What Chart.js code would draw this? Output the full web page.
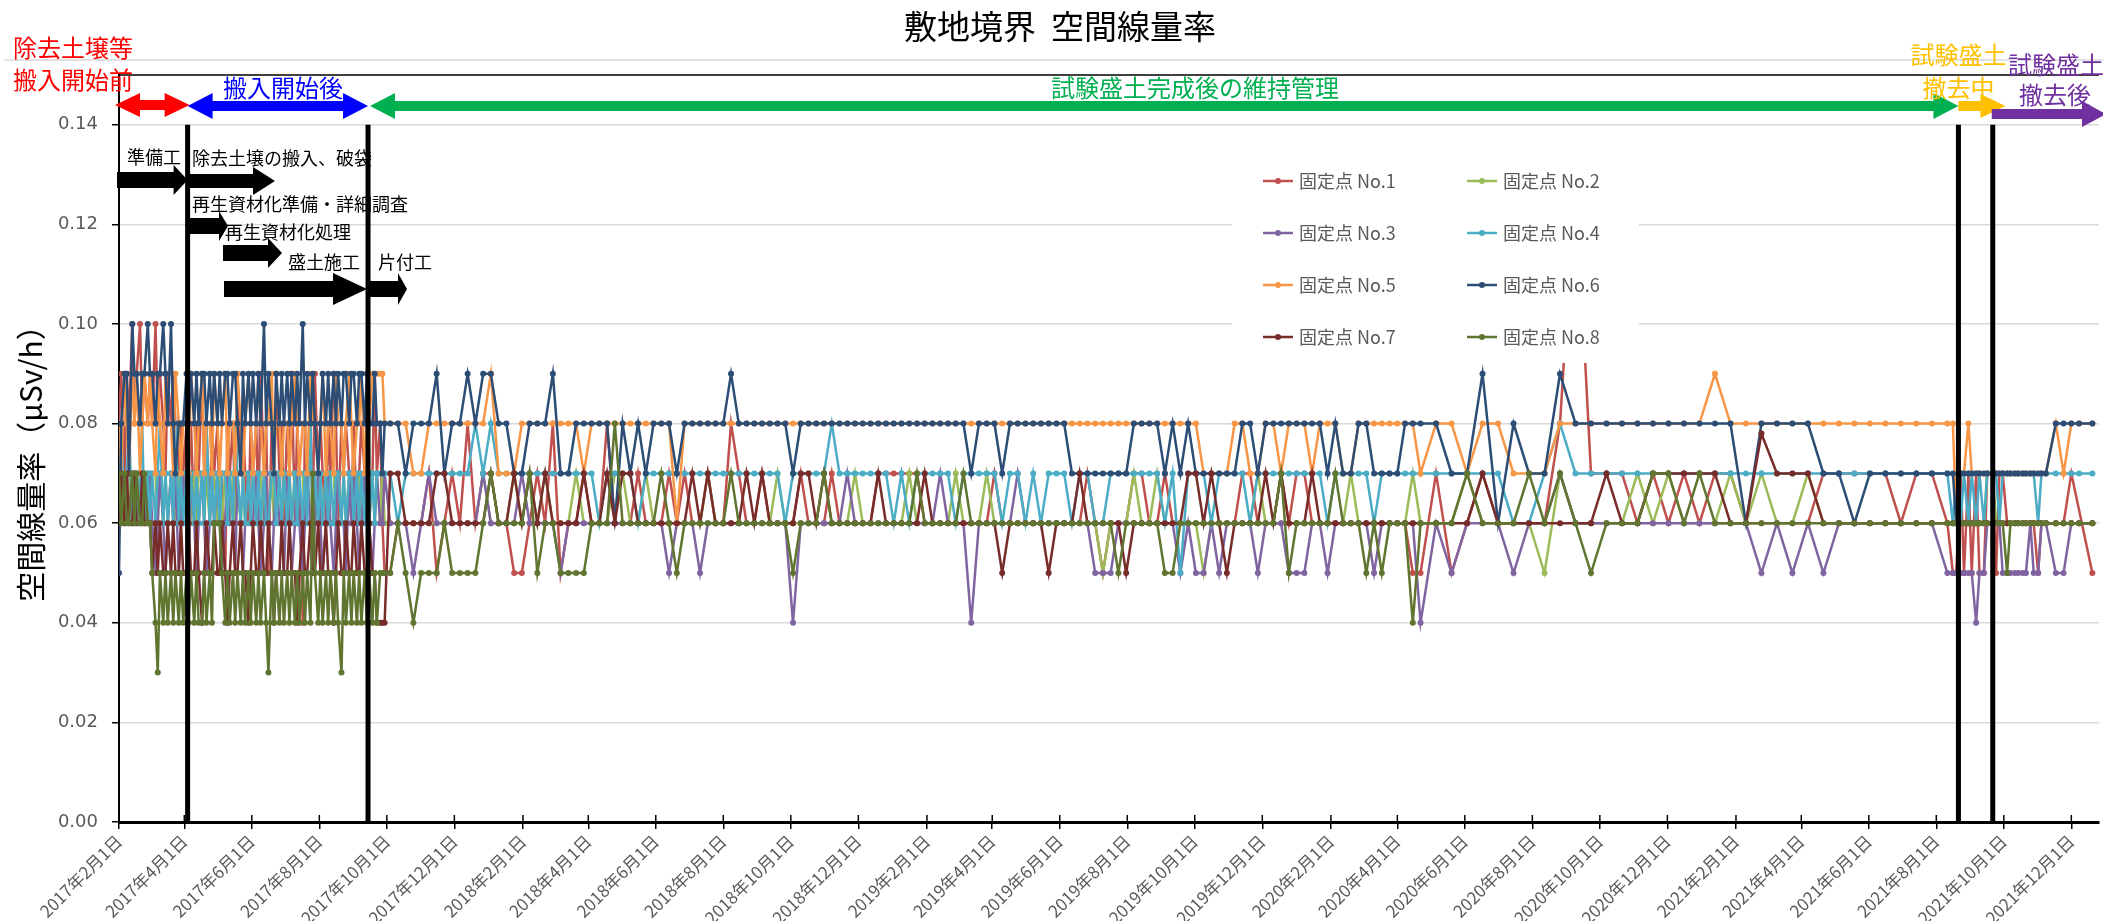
<!DOCTYPE html>
<html lang="ja">
<head>
<meta charset="utf-8">
<title>敷地境界 空間線量率</title>
<script src="https://cdn.jsdelivr.net/npm/chart.js@4.4.1/dist/chart.umd.min.js"></script>
<style>
  html, body { margin: 0; padding: 0; background: #fff; }
  canvas { display: block; }
</style>
</head>
<body>
<canvas id="chart" width="2103" height="921"></canvas>
<script>
// measurement dates (shared by all points)
const dates = [
  // 2017 dense period
  '2017-02-01','2017-02-03','2017-02-06','2017-02-08','2017-02-10','2017-02-13','2017-02-15','2017-02-17','2017-02-20','2017-02-22','2017-02-24','2017-02-27',
  '2017-03-01','2017-03-03','2017-03-06','2017-03-08','2017-03-10','2017-03-13','2017-03-15','2017-03-17','2017-03-20','2017-03-22','2017-03-24','2017-03-27','2017-03-29','2017-03-31',
  '2017-04-03','2017-04-05','2017-04-07','2017-04-10','2017-04-12','2017-04-14','2017-04-17','2017-04-19','2017-04-21','2017-04-24','2017-04-26','2017-04-28',
  '2017-05-01','2017-05-03','2017-05-05','2017-05-08','2017-05-10','2017-05-12','2017-05-15','2017-05-17','2017-05-19','2017-05-22','2017-05-24','2017-05-26','2017-05-29','2017-05-31',
  '2017-06-02','2017-06-05','2017-06-07','2017-06-09','2017-06-12','2017-06-14','2017-06-16','2017-06-19','2017-06-21','2017-06-23','2017-06-26','2017-06-28','2017-06-30',
  '2017-07-03','2017-07-05','2017-07-07','2017-07-10','2017-07-12','2017-07-14','2017-07-17','2017-07-19','2017-07-21','2017-07-24','2017-07-26','2017-07-28','2017-07-31',
  '2017-08-02','2017-08-04','2017-08-07','2017-08-09','2017-08-11','2017-08-14','2017-08-16','2017-08-18','2017-08-21','2017-08-23','2017-08-25','2017-08-28','2017-08-30',
  '2017-09-01','2017-09-04','2017-09-06','2017-09-08','2017-09-11','2017-09-13','2017-09-15','2017-09-18','2017-09-20','2017-09-22','2017-09-25','2017-09-27','2017-09-29',
  // weekly
  '2017-10-04','2017-10-11','2017-10-18','2017-10-25','2017-11-01','2017-11-08','2017-11-15','2017-11-22','2017-11-29','2017-12-06','2017-12-13','2017-12-20','2017-12-27',
  '2018-01-03','2018-01-10','2018-01-17','2018-01-24','2018-01-31','2018-02-07','2018-02-14','2018-02-21','2018-02-28','2018-03-07','2018-03-14','2018-03-21','2018-03-28',
  '2018-04-04','2018-04-11','2018-04-18','2018-04-25','2018-05-02','2018-05-09','2018-05-16','2018-05-23','2018-05-30','2018-06-06','2018-06-13','2018-06-20','2018-06-27',
  '2018-07-04','2018-07-11','2018-07-18','2018-07-25','2018-08-01','2018-08-08','2018-08-15','2018-08-22','2018-08-29','2018-09-05','2018-09-12','2018-09-19','2018-09-26',
  '2018-10-03','2018-10-10','2018-10-17','2018-10-24','2018-10-31','2018-11-07','2018-11-14','2018-11-21','2018-11-28','2018-12-05','2018-12-12','2018-12-19','2018-12-26',
  '2019-01-02','2019-01-09','2019-01-16','2019-01-23','2019-01-30','2019-02-06','2019-02-13','2019-02-20','2019-02-27','2019-03-06','2019-03-13','2019-03-20','2019-03-27',
  '2019-04-03','2019-04-10','2019-04-17','2019-04-24','2019-05-01','2019-05-08','2019-05-15','2019-05-22','2019-05-29','2019-06-05','2019-06-12','2019-06-19','2019-06-26',
  '2019-07-03','2019-07-10','2019-07-17','2019-07-24','2019-07-31','2019-08-07','2019-08-14','2019-08-21','2019-08-28','2019-09-04','2019-09-11','2019-09-18','2019-09-25',
  '2019-10-02','2019-10-09','2019-10-16','2019-10-23','2019-10-30','2019-11-06','2019-11-13','2019-11-20','2019-11-27','2019-12-04','2019-12-11','2019-12-18','2019-12-25',
  '2020-01-01','2020-01-08','2020-01-15','2020-01-22','2020-01-29','2020-02-05','2020-02-12','2020-02-19','2020-02-26','2020-03-04','2020-03-11','2020-03-18','2020-03-25',
  '2020-04-01','2020-04-08','2020-04-15','2020-04-22',
  // every two weeks
  '2020-05-06','2020-05-20','2020-06-03','2020-06-17','2020-07-01','2020-07-15','2020-07-29','2020-08-12','2020-08-26','2020-09-09','2020-09-23','2020-10-07','2020-10-21',
  '2020-11-04','2020-11-18','2020-12-02','2020-12-16','2020-12-30',
  '2021-01-13','2021-01-27','2021-02-10','2021-02-24','2021-03-10','2021-03-24','2021-04-07','2021-04-21','2021-05-05','2021-05-19','2021-06-02','2021-06-16','2021-06-30',
  '2021-07-14','2021-07-28','2021-08-11',
  // removal period
  '2021-08-16','2021-08-19','2021-08-23','2021-08-26','2021-08-30','2021-09-02','2021-09-06','2021-09-09','2021-09-13','2021-09-16','2021-09-21','2021-09-24','2021-09-27',
  '2021-09-30','2021-10-04','2021-10-07','2021-10-11','2021-10-14','2021-10-18','2021-10-21','2021-10-25','2021-10-28','2021-11-01','2021-11-04','2021-11-08',
  '2021-11-17','2021-11-24','2021-12-01','2021-12-08','2021-12-20'
];

// values in units of 0.01 μSv/h, same order as dates
const no1 = [
  8,9,7,9,8,10,8,9,10,8,9,8, 9,8,10,8,9,8,7,9,8,9,8,7,8,7, 8,7,8,6,8,7,9,7,8,6,8,7, 8,6,7,5,8,7,8,6,9,7,8,7,6,8,
  7,8,6,9,7,8,5,8,7,9,7,8,6, 8,7,9,6,8,7,4,8,7,8,6,9,7, 8,7,6,8,7,9,8,6,8,7,8,7,6, 8,6,7,8,7,8,6,7,9,7,8,6,5,
  5,6,6,6,6,7,5,6,7,6,8,6,7,
  7,6,6,5,5,6,7,6,8,5,6,6,7,6,6,8,6,6,6,7,6,6,6,7,6,7,
  6,6,7,6,6,8,7,6,6,7,6,6,6,6,7,6,6,6,7,6,6,6,6,6,7,7,
  7,7,7,7,6,6,6,6,6,6,6,6,6,7,6,6,6,6,6,6,6,6,6,6,6,7,
  6,5,6,6,6,7,7,6,6,7,6,6,6,6,6,6,6,6,6,7,7,6,6,6,7,6,
  7,7,6,6,6,6,6,6,6,6,6,6,6,6,6,5,5,
  7,5,6,7,6,6,6,6,8,13,7,7,7,6,7,6,7,6,
  7,7,6,6,6,6,6,7,7,7,7,7,6,7,7,6,
  5,5,7,5,7,5,7,5,5,7,7,5,7,7,6,6,6,6,6,6,6,6,5,6,6,
  6,6,7,null,5
];
const no2 = [
  7,6,7,6,7,6,7,7,6,7,6,7, 6,7,7,6,7,6,7,6,7,7,6,7,6,7, 6,7,6,7,6,7,7,6,7,6,7,7, 6,7,6,7,7,6,7,6,7,6,7,6,7,6,
  7,6,7,7,6,7,6,7,6,7,7,6,7, 6,7,6,7,6,7,7,6,7,6,7,6,7, 7,6,7,6,7,7,6,7,6,7,6,7,6, 7,6,7,6,7,6,7,7,6,7,6,7,6,
  6,6,6,6,6,6,6,6,6,6,6,6,7,
  6,6,6,7,6,7,6,7,6,6,6,7,6,6,6,6,7,7,6,6,7,6,6,6,6,6,
  6,6,7,6,6,6,6,6,6,6,6,7,6,6,6,6,6,6,6,6,6,7,6,6,6,6,
  6,6,7,6,6,6,6,6,7,6,6,6,7,6,6,6,6,6,6,6,6,6,6,6,6,6,
  6,5,6,6,6,7,6,6,7,6,6,6,6,6,5,6,6,6,6,6,6,7,6,6,6,6,
  6,6,6,6,6,6,6,7,6,6,6,6,6,6,6,7,6,
  6,6,7,6,6,6,6,5,7,6,6,6,6,7,6,7,6,6,
  6,7,6,7,6,6,7,6,6,6,6,6,6,6,6,6,
  6,6,6,6,6,6,6,6,6,7,7,6,6,6,6,6,6,6,6,6,6,6,6,6,6,
  6,6,6,6,6
];
const no3 = [
  6,7,6,7,6,7,6,7,7,6,7,6, 7,6,5,6,7,6,5,6,7,6,7,5,6,7, 6,5,7,6,5,6,7,6,5,6,7,6, 7,6,5,6,7,6,6,5,7,6,5,6,7,6,
  6,7,6,5,6,7,6,5,6,7,6,6,5, 7,6,5,6,7,6,5,6,7,6,5,6,7, 6,5,6,7,6,5,6,7,6,6,5,7,6, 7,6,5,6,7,6,6,5,6,7,6,6,7,
  6,6,6,5,6,7,6,6,6,6,6,6,7,
  6,6,6,6,7,6,6,6,6,5,6,6,6,6,6,6,6,6,6,6,6,6,6,5,6,6,
  6,5,6,6,6,6,6,6,6,6,6,6,6,4,6,6,6,6,6,6,7,6,6,6,6,6,
  6,6,6,6,6,6,7,6,6,6,4,6,6,6,6,6,7,6,6,6,6,6,6,6,6,6,
  5,5,5,6,6,6,6,6,6,6,6,5,6,5,5,6,5,6,6,6,6,5,6,6,6,5,
  5,5,6,6,5,6,6,6,6,6,5,6,6,6,6,6,4,
  6,5,6,6,6,5,6,6,7,6,6,6,6,6,6,6,6,6,
  6,6,6,5,6,5,6,5,6,6,6,6,6,6,6,5,
  5,5,5,5,5,5,4,5,5,6,6,6,6,5,5,5,5,5,5,5,6,5,5,6,6,
  5,5,6,6,6
];
const no4 = [
  7,8,6,7,8,6,7,6,7,8,6,7, 6,7,6,7,8,6,7,6,7,6,8,6,7,6, 7,6,7,6,7,6,7,6,8,6,7,6, 7,6,7,7,6,7,6,8,7,6,7,6,7,6,
  7,6,7,6,7,6,6,7,7,6,7,6,7, 6,7,6,7,6,7,6,7,6,8,6,7,6, 7,6,7,6,7,6,7,7,6,7,6,7,7, 6,7,6,7,6,7,6,7,6,7,7,7,7,
  7,6,7,7,7,7,7,7,7,7,7,8,7,
  8,7,7,7,7,7,7,7,7,7,7,7,7,7,6,7,7,7,7,6,7,7,7,7,7,7,
  7,7,7,7,7,7,7,7,7,7,7,7,6,7,7,7,7,7,8,7,7,7,7,7,7,7,
  6,7,6,7,7,7,7,7,6,7,7,7,7,7,6,7,7,6,7,6,7,7,7,6,7,7,
  6,6,7,7,7,7,7,7,7,6,7,5,7,7,7,6,7,7,7,7,6,7,7,7,7,7,
  7,7,7,7,6,7,7,7,7,7,6,7,7,7,7,7,7,
  7,7,7,7,7,6,6,7,8,7,7,7,7,7,7,7,7,7,
  7,7,7,7,7,7,7,7,7,7,7,7,7,7,7,7,
  6,7,6,7,6,7,6,7,6,7,7,7,6,7,7,7,7,7,7,7,7,7,6,7,7,
  7,7,7,7,7
];
const no5 = [
  8,7,9,8,7,9,8,9,7,8,9,8, 9,8,7,9,8,7,9,8,8,7,9,8,7,8, 8,7,9,8,7,8,9,7,8,8,7,9, 8,7,8,9,7,8,8,7,9,8,7,8,9,8,
  7,8,9,8,7,8,8,9,7,8,8,7,8, 8,7,8,9,8,7,8,8,7,9,8,8,7, 8,9,7,8,8,7,9,8,8,7,8,9,8, 7,8,8,9,7,8,8,9,9,9,9,9,8,
  8,8,8,7,7,8,8,8,8,8,8,8,8,
  9,7,7,7,8,8,8,8,8,8,8,8,7,8,8,8,8,8,8,8,8,8,8,8,6,8,
  8,8,8,8,8,8,8,8,8,8,8,8,8,8,8,8,8,8,8,8,8,8,8,8,8,8,
  8,8,8,8,8,8,8,8,8,8,8,8,8,8,8,8,8,8,8,8,8,8,8,8,8,8,
  8,8,8,8,8,8,8,8,8,8,8,8,8,8,7,7,7,7,8,8,7,7,8,8,7,8,
  8,8,7,8,8,8,7,7,8,8,8,8,8,8,8,8,7,
  8,8,7,8,8,7,7,7,8,8,8,8,8,8,8,8,8,8,
  9,8,8,8,8,8,8,8,8,8,8,8,8,8,8,8,
  8,6,7,7,8,7,7,7,7,7,7,7,7,7,7,7,7,7,7,7,7,7,7,7,7,
  8,7,8,8,8
];
const no6 = [
  5,8,9,9,7,10,9,9,8,9,9,10, 9,9,8,9,9,10,9,8,10,8,7,8,8,8, 9,8,9,8,9,8,9,9,8,9,8,9, 8,9,8,9,9,8,9,9,8,7,9,8,9,8,
  9,8,9,8,10,8,9,8,7,9,8,9,8, 9,8,9,8,9,8,10,8,9,8,9,8,7, 8,9,8,9,8,9,8,9,8,9,9,8,9, 9,8,9,9,8,9,8,8,9,8,8,7,8,
  8,8,7,8,8,8,9,7,8,8,9,8,9,
  9,8,8,7,7,8,8,8,9,7,7,8,8,8,8,8,6,8,7,8,7,8,8,8,7,8,
  8,8,8,8,8,9,8,8,8,8,8,8,8,7,8,8,8,8,8,8,8,8,8,8,8,8,
  8,8,8,8,8,8,8,8,8,8,7,8,8,8,7,8,8,8,8,8,8,8,8,7,7,7,
  7,7,7,7,7,8,8,8,8,7,8,7,8,7,7,7,7,7,7,8,8,7,8,8,8,8,
  8,8,8,8,7,8,7,7,8,8,7,7,7,7,8,8,8,
  8,7,7,9,6,8,7,7,9,8,8,8,8,8,8,8,8,8,
  8,8,6,8,8,8,8,7,7,6,7,7,7,7,7,7,
  7,6,7,7,7,7,7,7,7,7,7,7,7,7,7,7,7,7,7,7,7,7,7,7,7,
  8,8,8,8,8
];
const no7 = [
  6,7,6,7,6,6,7,6,6,7,6,6, 6,5,6,5,6,5,5,6,5,6,5,5,6,5, 5,6,5,5,6,5,4,5,6,5,5,6, 5,5,6,5,4,5,6,5,5,6,5,5,4,5,
  6,5,5,6,5,5,6,5,4,5,5,6,5, 5,6,5,5,4,5,6,5,5,6,5,5,6, 5,5,6,5,5,4,5,6,5,5,6,5,5, 6,5,5,6,5,5,6,5,5,4,4,4,4,
  7,7,6,6,6,6,7,7,6,6,6,6,6,
  7,6,6,7,6,7,6,7,6,6,6,6,7,6,6,7,6,7,7,6,6,6,6,6,6,6,
  7,6,7,6,6,6,6,7,6,7,6,6,6,6,7,7,6,7,6,6,6,6,6,6,7,6,
  6,6,6,6,7,6,6,6,6,6,6,6,6,6,5,6,6,6,6,6,5,6,6,6,7,6,
  6,6,6,6,5,6,6,6,6,6,6,6,7,7,6,7,6,5,6,6,6,6,7,6,7,6,
  6,6,7,6,6,6,6,6,6,6,6,6,6,6,6,6,6,
  6,6,6,7,6,6,6,6,6,6,6,7,6,6,7,7,7,7,
  7,6,6,7.8,7,7,7,6,6,6,6,6,6,6,6,6,
  6,6,6,6,6,6,6,6,6,6,6,6,6,6,6,6,6,6,6,6,6,6,6,6,6,
  6,6,6,6,6
];
const no8 = [
  7,6,7,6,6,7,6,7,6,6,7,6, 6,5,4,3,5,4,5,4,5,4,5,4,5,4, 5,4,5,4,5,4,4,5,4,5,4,6, 6,6,5,4,5,4,5,4,5,4,5,4,5,4,
  5,4,5,4,5,4,3,5,4,5,4,5,4, 5,4,5,4,5,4,5,4,5,4,7,5,4, 5,4,5,4,5,4,5,4,3,5,4,5,4, 5,4,5,4,5,4,5,4,5,4,5,5,5,
  5,6,5,4,5,5,5,6,5,5,5,5,6,
  7,6,6,6,6,7,5,6,6,5,5,5,5,6,6,6,8,6,6,6,6,6,7,6,5,6,
  6,6,6,6,6,7,6,6,6,6,6,6,6,5,6,6,6,7,6,6,6,6,6,6,6,6,
  6,6,6,7,6,6,6,6,6,7,6,6,6,6,6,6,6,6,6,6,6,6,6,6,6,6,
  6,6,6,5,6,6,6,6,6,5,5,6,6,6,6,6,6,6,6,6,6,6,6,6,7,5,
  6,6,6,6,6,7,6,6,6,5,6,5,6,6,6,4,6,
  6,6,7,6,6,6,7,6,7,6,5,6,6,6,7,7,6,7,
  6,6,6,6,6,6,6,6,6,6,6,6,6,6,6,6,
  6,6,6,6,6,6,6,6,6,6,6,6,6,6,5,6,6,6,6,6,6,6,6,6,6,
  6,6,6,6,6
];

const seriesNames = ['固定点 No.1', '固定点 No.2', '固定点 No.3', '固定点 No.4', '固定点 No.5', '固定点 No.6', '固定点 No.7', '固定点 No.8'];
const seriesColors = ['#C0504D', '#9BBB59', '#8064A2', '#4BACC6', '#F79646', '#2C4D75', '#772C2A', '#5F7530'];

const tickDates = [
  '2017-02-01','2017-04-01','2017-06-01','2017-08-01','2017-10-01','2017-12-01',
  '2018-02-01','2018-04-01','2018-06-01','2018-08-01','2018-10-01','2018-12-01',
  '2019-02-01','2019-04-01','2019-06-01','2019-08-01','2019-10-01','2019-12-01',
  '2020-02-01','2020-04-01','2020-06-01','2020-08-01','2020-10-01','2020-12-01',
  '2021-02-01','2021-04-01','2021-06-01','2021-08-01','2021-10-01','2021-12-01'
];
const xStart = '2017-02-01';
const xEnd = '2021-12-26';

// boundaries between work phases (vertical black lines)
const phaseLines = ['2017-04-04', '2017-09-14', '2021-08-21', '2021-09-21'];

const JP = '"Noto Sans CJK JP", "Noto Sans", sans-serif';
const ts = d => Date.parse(d + 'T00:00:00Z');

function fmtDate(v) {
  const d = new Date(v);
  return d.getUTCFullYear() + '年' + (d.getUTCMonth() + 1) + '月' + d.getUTCDate() + '日';
}

const series = [no1, no2, no3, no4, no5, no6, no7, no8];
const datasets = series.map((vals, k) => ({
  label: seriesNames[k],
  data: vals.slice(0, dates.length).map((v, i) => ({ x: ts(dates[i]), y: v == null ? null : v / 100 })),
  borderColor: seriesColors[k],
  backgroundColor: seriesColors[k],
  borderWidth: 2.5,
  pointRadius: 3,
  pointBorderWidth: 0,
  pointHoverRadius: 3,
  tension: 0,
  spanGaps: true,
  order: series.length - k
}));

function text(ctx, s, x, y, color, size, align) {
  ctx.fillStyle = color;
  ctx.font = size + 'px ' + JP;
  ctx.textAlign = align || 'left';
  ctx.textBaseline = 'middle';
  ctx.fillText(s, x, y);
}

function arrow(ctx, x1, x2, y, color, hl, hh, sh) {
  ctx.fillStyle = color;
  ctx.beginPath();
  ctx.moveTo(x1, y - sh);
  ctx.lineTo(x2 - hl, y - sh);
  ctx.lineTo(x2 - hl, y - hh);
  ctx.lineTo(x2, y);
  ctx.lineTo(x2 - hl, y + hh);
  ctx.lineTo(x2 - hl, y + sh);
  ctx.lineTo(x1, y + sh);
  ctx.closePath();
  ctx.fill();
}

function dblArrow(ctx, x1, x2, y, color, hl, hh, sh) {
  ctx.fillStyle = color;
  ctx.beginPath();
  ctx.moveTo(x1, y);
  ctx.lineTo(x1 + hl, y - hh);
  ctx.lineTo(x1 + hl, y - sh);
  ctx.lineTo(x2 - hl, y - sh);
  ctx.lineTo(x2 - hl, y - hh);
  ctx.lineTo(x2, y);
  ctx.lineTo(x2 - hl, y + hh);
  ctx.lineTo(x2 - hl, y + sh);
  ctx.lineTo(x1 + hl, y + sh);
  ctx.lineTo(x1 + hl, y + hh);
  ctx.closePath();
  ctx.fill();
}

function hline(ctx, x1, x2, y, color, w) {
  ctx.strokeStyle = color;
  ctx.lineWidth = w;
  ctx.beginPath();
  ctx.moveTo(x1, y);
  ctx.lineTo(x2, y);
  ctx.stroke();
}

const annotations = {
  id: 'annotations',
  afterDraw(chart) {
    const ctx = chart.ctx;
    const a = chart.chartArea;
    const xs = chart.scales.x;
    const ys = chart.scales.y;
    const X = d => xs.getPixelForValue(ts(d));
    const [L1, L2, L3, L4] = phaseLines.map(X);
    ctx.save();

    // title and axis title
    text(ctx, '敷地境界  空間線量率', 1060, 26, '#000', 33, 'center');
    ctx.save();
    ctx.translate(31, 456);
    ctx.rotate(-Math.PI / 2);
    text(ctx, '空間線量率（μSv/h）', 0, 0, '#000', 30, 'center');
    ctx.restore();

    // frame lines of the annotation band
    hline(ctx, 4, 2103, 60, '#D9D9D9', 1.5);
    hline(ctx, a.left - 1, a.right, a.top, '#000', 1.5);

    // upper halves of the x tick marks
    ctx.strokeStyle = '#000';
    ctx.lineWidth = 1.5;
    tickDates.forEach(d => {
      const x = X(d);
      ctx.beginPath();
      ctx.moveTo(x, a.bottom - 7);
      ctx.lineTo(x, a.bottom);
      ctx.stroke();
    });

    // phase arrows
    dblArrow(ctx, a.left - 4, L1 + 2, 105, '#FF0000', 25, 12, 5);
    dblArrow(ctx, L1, L2, 106, '#0000FF', 25, 13, 5);
    dblArrow(ctx, L2 + 2, L3, 106, '#00B050', 25, 13, 5);
    arrow(ctx, L3, L3 + 47, 106, '#FFC000', 25, 12, 5);
    arrow(ctx, L4 - 1, 2106, 114, '#7030A0', 24, 13, 5);

    text(ctx, '除去土壌等', 13, 48, '#FF0000', 24);
    text(ctx, '搬入開始前', 13, 80, '#FF0000', 24);
    text(ctx, '搬入開始後', 283, 88, '#0000FF', 24, 'center');
    text(ctx, '試験盛土完成後の維持管理', 1195, 88, '#00B050', 24, 'center');
    text(ctx, '試験盛土', L3, 55, '#FFC000', 24, 'center');
    text(ctx, '撤去中', L3, 88, '#FFC000', 24, 'center');
    text(ctx, '試験盛土', 2008, 65, '#7030A0', 24);
    text(ctx, '撤去後', 2055, 95, '#7030A0', 24, 'center');

    // work items
    arrow(ctx, a.left - 2, L1, 180, '#000', 14, 15, 8);
    arrow(ctx, L1, 275, 181, '#000', 22, 14, 7);
    arrow(ctx, L1, 228, 226, '#000', 9, 15, 8);
    arrow(ctx, 223, 282, 253, '#000', 14, 15, 8);
    arrow(ctx, 224, L2 - 1, 289, '#000', 34, 16, 8);
    arrow(ctx, L2 + 2, 407, 289, '#000', 9, 16, 8);
    text(ctx, '準備工', 127, 157, '#000', 18);
    text(ctx, '除去土壌の搬入、破袋', 192, 158, '#000', 18);
    text(ctx, '再生資材化準備・詳細調査', 192, 204, '#000', 18);
    text(ctx, '再生資材化処理', 225, 232, '#000', 18);
    text(ctx, '盛土施工', 288, 262, '#000', 18);
    text(ctx, '片付工', 378, 262, '#000', 18);

    // phase boundary lines
    const yTop = ys.getPixelForValue(0.14);
    ctx.strokeStyle = '#000';
    ctx.lineWidth = 5;
    [L1, L2, L3, L4].forEach(x => {
      ctx.beginPath();
      ctx.moveTo(x, yTop);
      ctx.lineTo(x, a.bottom);
      ctx.stroke();
    });

    // legend
    ctx.fillStyle = '#fff';
    ctx.fillRect(1232, 150, 407, 213);
    const lx = [1263, 1467];
    const ly = [181, 233, 285, 337];
    seriesNames.forEach((name, k) => {
      const x = lx[k % 2];
      const y = ly[Math.floor(k / 2)];
      hline(ctx, x, x + 30, y, seriesColors[k], 2.5);
      ctx.fillStyle = seriesColors[k];
      ctx.beginPath();
      ctx.arc(x + 15, y, 3, 0, Math.PI * 2);
      ctx.fill();
      text(ctx, name, x + 36, y, '#595959', 18);
    });

    ctx.restore();
  }
};

new Chart(document.getElementById('chart').getContext('2d'), {
  type: 'line',
  data: { datasets },
  options: {
    responsive: false,
    animation: false,
    devicePixelRatio: 1,
    layout: { padding: { top: 75, right: 4, left: 0, bottom: 0 } },
    plugins: {
      legend: { display: false },
      title: { display: false },
      tooltip: { enabled: false }
    },
    scales: {
      x: {
        type: 'linear',
        min: ts(xStart),
        max: ts(xEnd),
        afterBuildTicks: ax => { ax.ticks = tickDates.map(d => ({ value: ts(d) })); },
        afterFit: ax => { ax.height = 99; ax.paddingLeft = 0; ax.paddingRight = 0; },
        ticks: {
          autoSkip: false,
          minRotation: 45,
          maxRotation: 45,
          color: '#595959',
          font: { family: JP, size: 17 },
          padding: 2,
          callback: v => fmtDate(v)
        },
        grid: { drawOnChartArea: false, drawTicks: true, tickLength: 7, color: '#000', lineWidth: 1.5 },
        border: { color: '#000', width: 3 }
      },
      y: {
        min: 0,
        max: 0.15,
        afterFit: ax => { ax.width = 119; },
        ticks: {
          stepSize: 0.02,
          includeBounds: false,
          color: '#595959',
          font: { family: 'DejaVu Sans', size: 18 },
          padding: 14,
          callback: v => v.toFixed(2)
        },
        grid: { color: '#D9D9D9', lineWidth: 1.5, tickColor: '#000', tickLength: 7 },
        border: { color: '#000', width: 2 }
      }
    }
  },
  plugins: [annotations]
});
</script>
</body>
</html>
